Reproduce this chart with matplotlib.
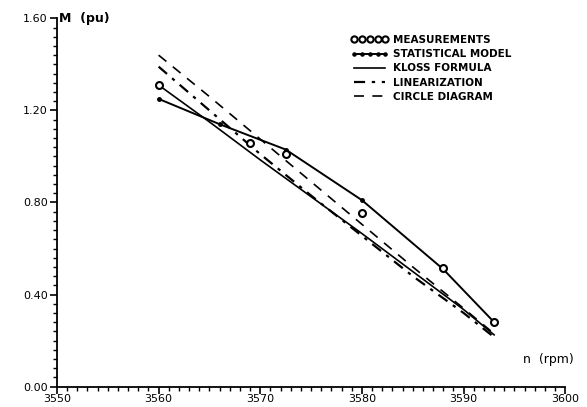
import matplotlib
matplotlib.use('Agg')
import matplotlib.pyplot as plt
from matplotlib.ticker import MultipleLocator, FormatStrFormatter

# speed (rpm) and torque (pu)
meas_n = [3560, 3569, 3572.5, 3580, 3588, 3593]
meas_m = [1.31, 1.06, 1.01, 0.755, 0.515, 0.28]

stat_n = [3560, 3566, 3572.5, 3580, 3588, 3593]
stat_m = [1.25, 1.14, 1.03, 0.81, 0.51, 0.28]

kloss_n = [3560, 3565, 3570, 3575, 3580, 3585, 3590, 3593]
kloss_m = [1.31, 1.15, 0.985, 0.825, 0.665, 0.50, 0.335, 0.225]

lin_n = [3560, 3565, 3570, 3575, 3580, 3585, 3590, 3593]
lin_m = [1.39, 1.20, 1.01, 0.83, 0.655, 0.48, 0.32, 0.215]

circ_n = [3560, 3565, 3570, 3575, 3580, 3585, 3590, 3593]
circ_m = [1.44, 1.26, 1.075, 0.89, 0.705, 0.52, 0.34, 0.23]

plt.rcParams['font.family'] = ['DejaVu Sans']

fig = plt.figure(figsize=(5.87, 4.07), dpi=100)
ax = fig.add_axes([0.097, 0.05, 0.866, 0.905])

ax.plot(meas_n, meas_m, linestyle='none', marker='o', markersize=5,
        markerfacecolor='white', markeredgecolor='black', markeredgewidth=1.5,
        label='MEASUREMENTS', zorder=5)
ax.plot(stat_n, stat_m, color='black', lw=1.4, marker='o', markersize=2.5,
        label='STATISTICAL MODEL')
ax.plot(kloss_n, kloss_m, color='black', lw=1.2, label='KLOSS FORMULA')
ax.plot(lin_n, lin_m, color='black', lw=1.6, linestyle=(0, (5, 3, 1.5, 3)),
        label='LINEARIZATION')
ax.plot(circ_n, circ_m, color='black', lw=1.2, linestyle=(0, (6, 5)),
        label='CIRCLE DIAGRAM')

ax.set_xlim(3550, 3600)
ax.set_ylim(0, 1.6)
ax.xaxis.set_major_locator(MultipleLocator(10))
ax.xaxis.set_minor_locator(MultipleLocator(1))
ax.yaxis.set_major_locator(MultipleLocator(0.4))
ax.yaxis.set_minor_locator(MultipleLocator(0.04))
ax.yaxis.set_major_formatter(FormatStrFormatter('%.2f'))

for side in ('top', 'right'):
    ax.spines[side].set_visible(False)
for side in ('left', 'bottom'):
    ax.spines[side].set_linewidth(1.3)

ax.tick_params(which='major', length=5, width=1.2, labelsize=8, pad=1.5)
ax.tick_params(axis='x', which='major', pad=0.5)
ax.tick_params(which='minor', length=3, width=1.0)

ax.text(0.005, 1.0, 'M  (pu)', transform=ax.transAxes, fontsize=9,
        fontweight='bold', va='center', ha='left')
ax.text(0.917, 0.073, 'n  (rpm)', transform=ax.transAxes, fontsize=9,
        va='center', ha='left', clip_on=False)

leg = ax.legend(loc='upper left', bbox_to_anchor=(0.56, 0.98), frameon=False,
                fontsize=7.5, numpoints=5, handlelength=3.6, handletextpad=0.4,
                labelspacing=0.4, markerscale=0.9)
for t in leg.get_texts():
    t.set_fontweight('bold')

fig.savefig('out.png', dpi=100)
